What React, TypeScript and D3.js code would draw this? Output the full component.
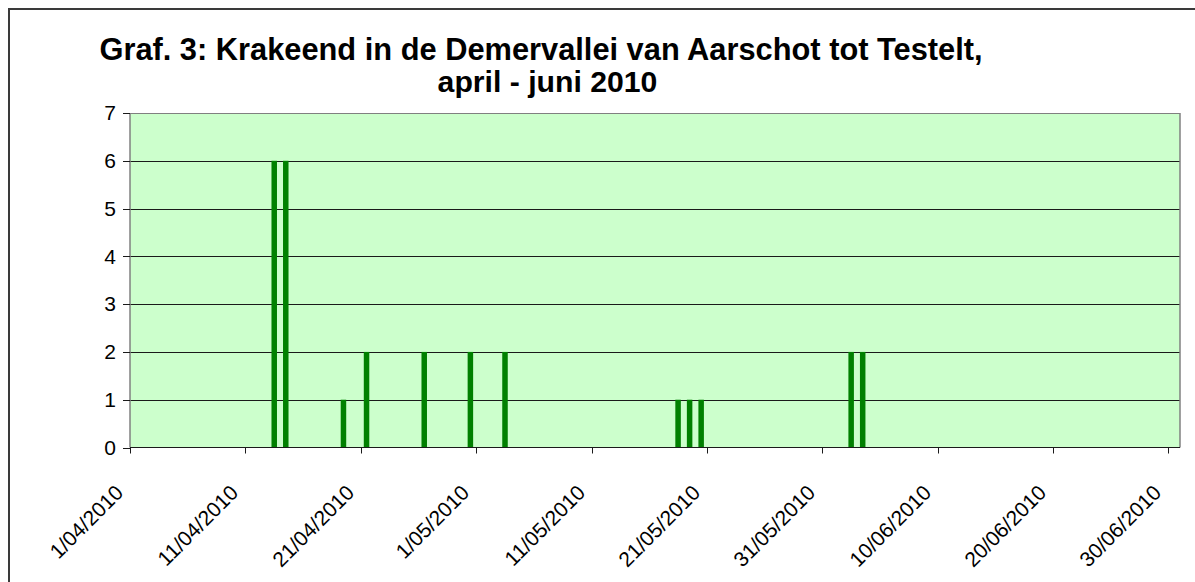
import React from "react";
import * as d3 from "d3";

const titleLines = [
  "Graf. 3: Krakeend in de Demervallei van Aarschot tot Testelt,",
  "april - juni 2010",
];
const obsDates = [
  "2010-04-13", "2010-04-14", "2010-04-19", "2010-04-21", "2010-04-26", "2010-04-30",
  "2010-05-03", "2010-05-18", "2010-05-19", "2010-05-20", "2010-06-02", "2010-06-03",
];
const obsCounts = [6, 6, 1, 2, 2, 2, 2, 1, 1, 1, 2, 2];
const tickDates = [
  "2010-04-01", "2010-04-11", "2010-04-21", "2010-05-01", "2010-05-11",
  "2010-05-21", "2010-05-31", "2010-06-10", "2010-06-20", "2010-06-30",
];
const yTicks = [0, 1, 2, 3, 4, 5, 6, 7];
const axisStart = "2010-04-01";
const axisEnd = "2010-07-01";

const FONT = "'Liberation Sans', Arial, sans-serif";

export default function App() {
  const W = 1195;
  const H = 582;
  const left = 130, right = 1180, top = 113, bottom = 447.5;
  const parse = d3.utcParse("%Y-%m-%d");
  const x = d3.scaleUtc().domain([parse(axisStart)!, parse(axisEnd)!]).range([left, right]);
  const y = d3.scaleLinear().domain([0, 7]).range([bottom, top]);
  const fmt = (d: Date) => `${d.getUTCDate()}/${d3.utcFormat("%m/%Y")(d)}`;
  const barW = 5.5;

  return (
    <svg
      width={W}
      height={H}
      style={{ position: "absolute", left: 0, top: 0, display: "block", overflow: "hidden" }}
      fontFamily={FONT}
    >
      <rect x={0} y={0} width={W} height={H} fill="#fff" />
      <rect x={9} y={9} width={W + 300} height={H + 300} fill="#fff" stroke="#3a3a3a" strokeWidth={2} />
      <text x={541} y={60} textAnchor="middle" fontSize={30.8} fontWeight="bold" fill="#000">{titleLines[0]}</text>
      <text x={547.5} y={92} textAnchor="middle" fontSize={30.2} fontWeight="bold" fill="#000">{titleLines[1]}</text>

      <rect x={left} y={top} width={right - left} height={bottom - top} fill="#CCFFCC" />
      {yTicks.filter((t) => t > 0).map((t) => (
        <line key={t} x1={left} x2={right} y1={Math.round(y(t)) + 0.5} y2={Math.round(y(t)) + 0.5} stroke={t === 7 ? "#808080" : "#1a1a1a"} strokeWidth={1} />
      ))}
      <line x1={right} x2={right} y1={top} y2={bottom} stroke="#808080" strokeWidth={1.5} />

      {obsDates.map((ds, i) => {
        const d0 = parse(ds)!;
        const d1 = d3.utcDay.offset(d0, 1);
        const cx = (x(d0) + x(d1)) / 2;
        return (
          <rect key={ds} x={cx - barW / 2} y={y(obsCounts[i])} width={barW} height={y(0) - y(obsCounts[i])} fill="#008000" />
        );
      })}

      <line x1={left} x2={left} y1={top} y2={bottom} stroke="#808080" strokeWidth={1.5} />
      <line x1={left} x2={right} y1={bottom} y2={bottom} stroke="#1a1a1a" strokeWidth={1.2} />

      {yTicks.map((t) => (
        <g key={t}>
          <line x1={left - 7} x2={left} y1={Math.round(y(t)) + 0.5} y2={Math.round(y(t)) + 0.5} stroke="#1a1a1a" />
          <text x={left - 14} y={y(t)} dy="0.35em" textAnchor="end" fontSize={21} fill="#000">{t}</text>
        </g>
      ))}

      {tickDates.map((ds) => {
        const d = parse(ds)!;
        const tx = Math.round(x(d)) + 0.5;
        return (
          <g key={ds}>
            <line x1={tx} x2={tx} y1={bottom} y2={bottom + 6} stroke="#1a1a1a" />
            <text transform={`translate(${tx - 6},${494}) rotate(-45)`} textAnchor="end" fontSize={21} fill="#000">{fmt(d)}</text>
          </g>
        );
      })}
    </svg>
  );
}
